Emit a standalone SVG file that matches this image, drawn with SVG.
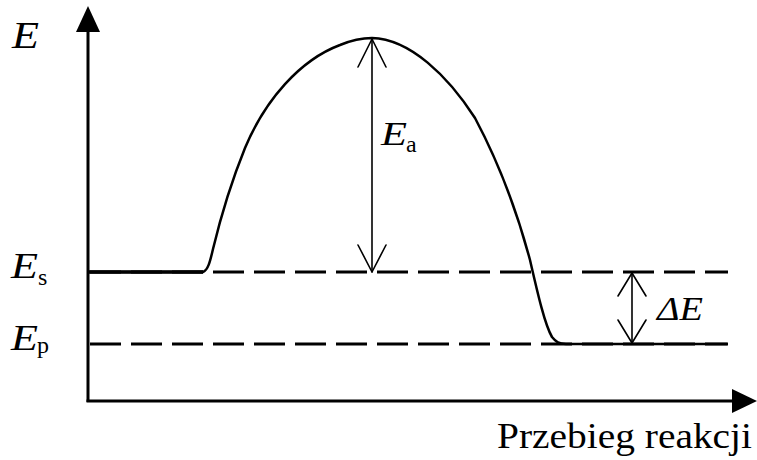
<svg xmlns="http://www.w3.org/2000/svg" width="757" height="460" viewBox="0 0 757 460">
<style>
.ax{stroke:#000;stroke-width:3;fill:none}
.lvl{stroke:#000;stroke-width:3;fill:none;stroke-dasharray:31 10}
.crv{stroke:#000;stroke-width:2.5;fill:none;stroke-linejoin:round}
.arr{stroke:#000;stroke-width:1.6;fill:none;stroke-linecap:round;stroke-linejoin:round}
.t{font-family:"Liberation Serif","Times New Roman",serif;fill:#000}
.it{font-style:italic}
</style>
<rect width="757" height="460" fill="#fff"/>
<g id="axes">
<line class="ax" x1="88" y1="402" x2="88" y2="28"/>
<polygon points="88,6 76,32 100,32" fill="#000"/>
<line class="ax" x1="86.5" y1="401" x2="735" y2="401"/>
<polygon points="757,401 732,389 732,413" fill="#000"/>
</g>
<g id="levels">
<line class="lvl" x1="90" y1="272" x2="728" y2="272"/>
<line class="lvl" x1="90" y1="344" x2="728" y2="344"/>
</g>
<g id="curve">
<path class="crv" d="M88,272 L203,272 C208,270 210,262 213,249 C220,220 232,180 245,148 C265,100 300,60 340,45 C352,40 362,38 372,38 C410,39 448,76 475,118 C500,165 518,215 530,260 C538,295 545,325 552,337 C556,342 559,344 566,344 L727,344"/>
<line x1="88" y1="272" x2="203" y2="272" stroke="#000" stroke-width="3.5"/>
</g>
<g id="connectors">
<line class="arr" x1="372" y1="39" x2="372" y2="272"/>
<polyline class="arr" points="358,67 372,39 386,67"/>
<polyline class="arr" points="358,245 372,272 386,245"/>
<line class="arr" x1="632" y1="273" x2="632" y2="343"/>
<polyline class="arr" points="618,296 632,273 646,296"/>
<polyline class="arr" points="618,320 632,343 646,320"/>
</g>
<g id="labels">
<text class="t it" x="12" y="48" font-size="37" textLength="27" lengthAdjust="spacingAndGlyphs">E</text>
<text class="t it" x="11" y="278" font-size="36" textLength="27" lengthAdjust="spacingAndGlyphs">E</text>
<text class="t" x="38" y="285" font-size="24">s</text>
<text class="t it" x="11" y="350" font-size="36" textLength="27" lengthAdjust="spacingAndGlyphs">E</text>
<text class="t" x="37" y="353" font-size="24">p</text>
<text class="t it" x="381" y="145" font-size="33" textLength="26" lengthAdjust="spacingAndGlyphs">E</text>
<text class="t" x="406" y="152" font-size="24">a</text>
<text class="t it" x="657" y="320" font-size="33" textLength="46" lengthAdjust="spacingAndGlyphs">ΔE</text>
<text class="t" x="497" y="448" font-size="35" textLength="255" lengthAdjust="spacingAndGlyphs">Przebieg reakcji</text>
</g>
</svg>
